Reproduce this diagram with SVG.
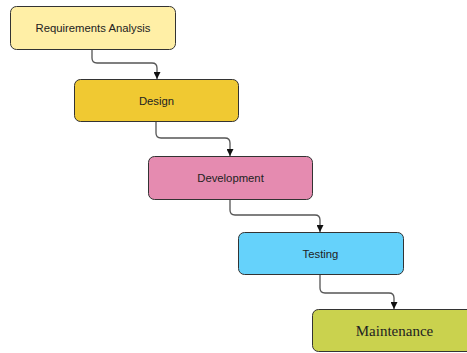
<svg xmlns="http://www.w3.org/2000/svg" width="467" height="353" viewBox="0 0 467 353">
<style>
.box{stroke:#333;stroke-width:1;}
.lbl{font-family:"Liberation Sans",Arial,sans-serif;font-size:11.3px;fill:#222;text-anchor:middle;dominant-baseline:central;}
.ser{font-family:"Liberation Serif","Times New Roman",serif;font-size:15px;fill:#222;text-anchor:middle;dominant-baseline:central;}
.con{fill:none;stroke:#555;stroke-width:1.3;marker-end:url(#arr);}
</style>
<defs>
<marker id="arr" viewBox="0 0 10 10" refX="10" refY="5" markerWidth="7" markerHeight="7" markerUnits="userSpaceOnUse" orient="auto">
<path d="M0 0 L10 5 L0 10 Z" fill="#111"/>
</marker>
</defs>
<g id="connectors">
<path class="con" d="M92 49 V58 Q92 63 97 63 H152 Q157 63 157 68 V79"/>
<path class="con" d="M156 121 V133 Q156 138 161 138 H225 Q230 138 230 143 V156"/>
<path class="con" d="M230 199 V210 Q230 215 235 215 H315 Q320 215 320 220 V232"/>
<path class="con" d="M320 274 V288 Q320 293 325 293 H389 Q394 293 394 298 V309"/>
</g>
<g id="requirements">
<rect class="box" x="10.5" y="6.5" width="165" height="43" rx="6" fill="#FFEFA6"/>
<text class="lbl" x="93" y="28">Requirements Analysis</text>
</g>
<g id="design">
<rect class="box" x="74.5" y="79.5" width="164" height="42" rx="6" fill="#F0C932"/>
<text class="lbl" x="156.5" y="100.5">Design</text>
</g>
<g id="development">
<rect class="box" x="148.5" y="156.5" width="164" height="43" rx="6" fill="#E58BB0"/>
<text class="lbl" x="230.5" y="178">Development</text>
</g>
<g id="testing">
<rect class="box" x="238.5" y="232.5" width="165" height="42" rx="6" fill="#65D2FB"/>
<text class="lbl" x="320.5" y="253.5">Testing</text>
</g>
<g id="maintenance">
<rect class="box" x="312.5" y="309.5" width="165" height="42" rx="6" fill="#CAD24E"/>
<text class="ser" x="394.5" y="331">Maintenance</text>
</g>
</svg>
